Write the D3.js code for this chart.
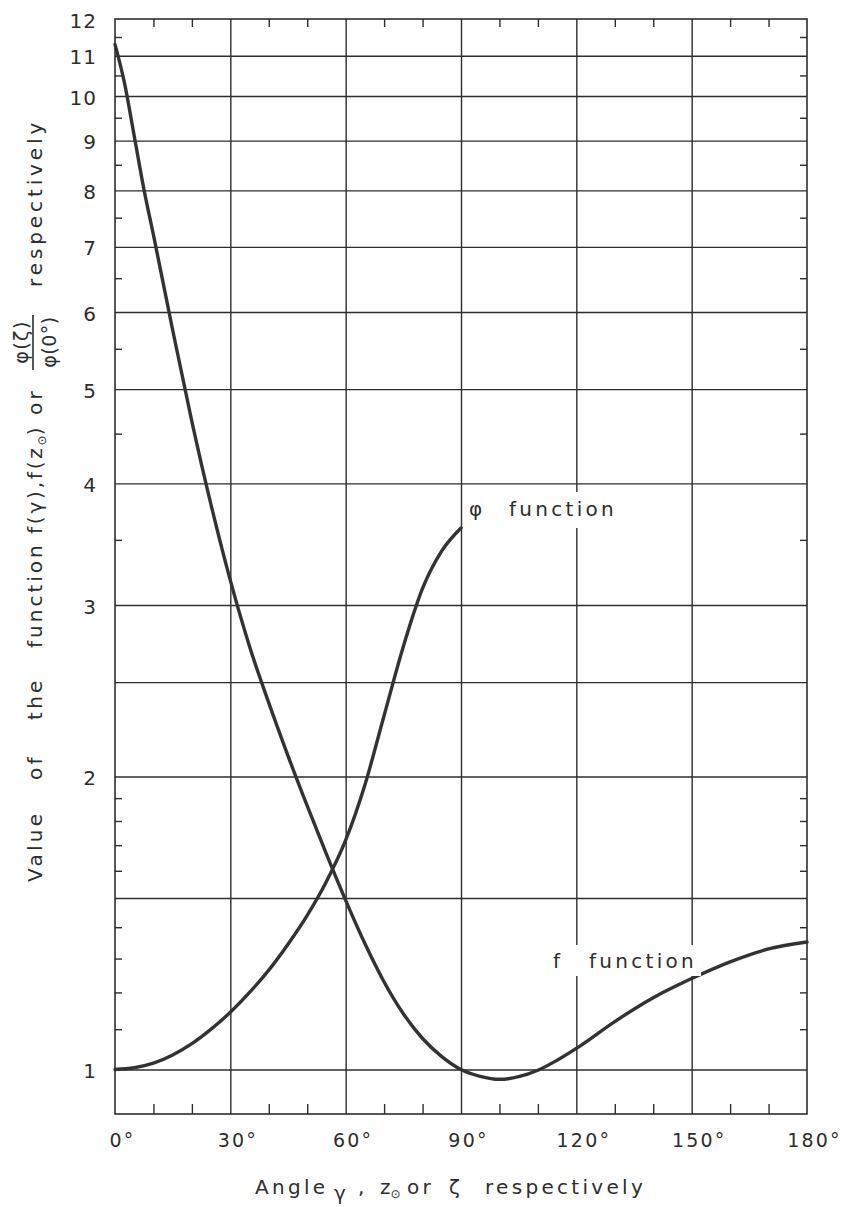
<!DOCTYPE html>
<html>
<head>
<meta charset="utf-8">
<script src="https://cdn.jsdelivr.net/npm/d3@7"></script>
<style>
  body { margin: 0; background: #fff; }
  svg { display: block; }
  text { font-family: "DejaVu Sans", sans-serif; fill: #2e2e2e; }
</style>
</head>
<body>
<svg id="chart" width="841" height="1207"></svg>
<script>
// Angle axis (degrees)
const angleMajor = [0, 30, 60, 90, 120, 150, 180];
const angleMinor = [10, 20, 40, 50, 70, 80, 100, 110, 130, 140, 160, 170];

// Value axis (logarithmic)
const valueGrid = [1, 1.5, 2, 2.5, 3, 4, 5, 6, 7, 8, 9, 10, 11];
const valueLabels = [1, 2, 3, 4, 5, 6, 7, 8, 9, 10, 11, 12];
const valueMinor = [1.1, 1.2, 1.3, 1.4, 1.6, 1.7, 1.8, 1.9, 3.5, 4.5, 5.5, 6.5, 7.5, 8.5, 9.5, 10.5, 11.5];

// f function
const fAngle = [0, 2.5, 5, 7.5, 10, 15, 20, 25, 30, 35, 40, 45, 50, 55, 60, 65, 70, 75, 80, 85, 90,
                95, 100, 105, 110, 115, 120, 130, 140, 150, 160, 170, 180];
const fValue = [11.3, 10.3, 9.1, 8.03, 7.2, 5.75, 4.63, 3.8, 3.18, 2.72, 2.38, 2.1, 1.865, 1.664, 1.492, 1.347, 1.23, 1.141, 1.076, 1.031, 1.0,
                0.984, 0.977, 0.983, 0.998, 1.022, 1.051, 1.12, 1.185, 1.24, 1.29, 1.33, 1.352];

// phi function, phi(zeta)/phi(0°)
const phiAngle = [0, 5, 10, 15, 20, 25, 30, 35, 40, 45, 50, 55, 60, 65, 70, 75, 80, 85, 90];
const phiValue = [1.0, 1.004, 1.015, 1.035, 1.063, 1.1, 1.145, 1.2, 1.265, 1.345, 1.44, 1.56, 1.72, 1.96, 2.31, 2.72, 3.12, 3.41, 3.6];

const ink = "#2e2e2e";
const plotL = 115, plotR = 807, plotT = 19, plotB = 1114;

const svg = d3.select("#chart");

const x = d3.scaleLinear().domain([0, 180]).range([plotL, plotR]);
const y = d3.scaleLog().domain([0.9, 12]).range([plotB, plotT]);

// horizontal grid
svg.append("g")
  .attr("transform", `translate(${plotL},0)`)
  .call(d3.axisLeft(y).tickValues(valueGrid).tickSize(-(plotR - plotL)).tickFormat(""))
  .call(g => g.select(".domain").remove())
  .call(g => g.selectAll("line").attr("stroke", ink).attr("stroke-width", 1.4));

// vertical grid
svg.append("g")
  .attr("transform", `translate(0,${plotB})`)
  .call(d3.axisBottom(x).tickValues(angleMajor.slice(1, -1)).tickSize(-(plotB - plotT)).tickFormat(""))
  .call(g => g.select(".domain").remove())
  .call(g => g.selectAll("line").attr("stroke", ink).attr("stroke-width", 1.4));

// minor ticks, all four sides
svg.append("g").attr("transform", `translate(${plotL},0)`)
  .call(d3.axisLeft(y).tickValues(valueMinor).tickSize(-7).tickFormat(""))
  .call(g => g.select(".domain").remove());
svg.append("g").attr("transform", `translate(${plotR},0)`)
  .call(d3.axisRight(y).tickValues(valueMinor).tickSize(-7).tickFormat(""))
  .call(g => g.select(".domain").remove());
svg.append("g").attr("transform", `translate(0,${plotB})`)
  .call(d3.axisBottom(x).tickValues(angleMinor).tickSize(-10).tickFormat(""))
  .call(g => g.select(".domain").remove());
svg.append("g").attr("transform", `translate(0,${plotT})`)
  .call(d3.axisTop(x).tickValues(angleMinor).tickSize(-8).tickFormat(""))
  .call(g => g.select(".domain").remove());
svg.selectAll(".tick line").filter(function () { return !this.getAttribute("stroke-width"); })
  .attr("stroke", ink).attr("stroke-width", 1.4);

// frame
svg.append("rect")
  .attr("x", plotL).attr("y", plotT)
  .attr("width", plotR - plotL).attr("height", plotB - plotT)
  .attr("fill", "none").attr("stroke", ink).attr("stroke-width", 1.6);

// value labels
svg.append("g").attr("transform", `translate(${plotL},0)`)
  .call(d3.axisLeft(y).tickValues(valueLabels).tickSize(0).tickPadding(18).tickFormat(d3.format("d")))
  .call(g => g.select(".domain").remove())
  .call(g => g.selectAll("text")
    .attr("font-family", "DejaVu Sans").attr("font-size", 20).attr("fill", ink)
    .attr("letter-spacing", 1).attr("dy", "0.4em"));

// angle labels
svg.append("g").attr("transform", `translate(0,${plotB})`)
  .call(d3.axisBottom(x).tickValues(angleMajor).tickSize(0).tickPadding(20).tickFormat(d => d + "°"))
  .call(g => g.select(".domain").remove())
  .call(g => g.selectAll("text")
    .attr("font-family", "DejaVu Sans").attr("font-size", 19).attr("fill", ink)
    .attr("letter-spacing", 2.2).attr("dx", 7));

// curves
const line = d3.line()
  .x(d => x(d[0]))
  .y(d => y(d[1]))
  .curve(d3.curveMonotoneX);

svg.append("path")
  .datum(d3.zip(fAngle, fValue))
  .attr("d", line)
  .attr("fill", "none").attr("stroke", "#333").attr("stroke-width", 3.4)
  .attr("stroke-linejoin", "round").attr("stroke-linecap", "round");

svg.append("path")
  .datum(d3.zip(phiAngle, phiValue))
  .attr("d", line)
  .attr("fill", "none").attr("stroke", "#333").attr("stroke-width", 3.4)
  .attr("stroke-linejoin", "round").attr("stroke-linecap", "round");

// curve labels on a white ground
function curveLabel(sym, symX, wordX, baseY, box) {
  svg.append("rect").attr("x", box[0]).attr("y", box[1])
    .attr("width", box[2]).attr("height", box[3]).attr("fill", "#fff");
  const t = svg.append("text").attr("y", baseY).attr("font-size", 20).attr("letter-spacing", 3.3);
  t.append("tspan").attr("x", symX).text(sym);
  t.append("tspan").attr("x", wordX).text("function");
}
curveLabel("φ", 469, 509, 516, [466, 492, 156, 36]);
curveLabel("f", 553, 589, 968, [549, 945, 152, 31]);

// x axis title
const xt = svg.append("text").attr("y", 1194).attr("font-size", 20).attr("letter-spacing", 3.3);
xt.append("tspan").attr("x", 255).text("Angle");
xt.append("tspan").attr("x", 334).attr("dy", 6).text("γ");
xt.append("tspan").attr("x", 358).attr("dy", -6).text(",");
xt.append("tspan").attr("x", 380).attr("letter-spacing", 0).text("z");
xt.append("tspan").attr("dy", 4).attr("font-size", 12).attr("letter-spacing", 0).text("⊙");
xt.append("tspan").attr("x", 407).attr("dy", -4).text("or");
xt.append("tspan").attr("x", 449).text("ζ");
xt.append("tspan").attr("x", 485).text("respectively");

// y axis title, reading upwards
const yg = svg.append("g").attr("transform", "translate(42,0) rotate(-90)");
const yt = yg.append("text").attr("y", 0).attr("font-size", 20).attr("letter-spacing", 3.3);
yt.append("tspan").attr("x", -882).text("Value");
yt.append("tspan").attr("x", -780).text("of");
yt.append("tspan").attr("x", -720).text("the");
yt.append("tspan").attr("x", -648).attr("letter-spacing", 3).text("function");
yt.append("tspan").attr("x", -534).attr("letter-spacing", 2.8).text("f(γ),f(z");
yt.append("tspan").attr("dy", 4).attr("font-size", 12).attr("letter-spacing", 0).text("⊙");
yt.append("tspan").attr("dy", -4).attr("letter-spacing", 0).text(")");
yt.append("tspan").attr("x", -415).attr("letter-spacing", 3.3).text("or");
yt.append("tspan").attr("x", -287).attr("letter-spacing", 3.9).text("respectively");

// fraction phi(zeta) / phi(0°)
yg.append("text").attr("x", -342).attr("y", -14).attr("text-anchor", "middle")
  .attr("font-size", 19).attr("letter-spacing", 1.5).text("φ(ζ)");
yg.append("text").attr("x", -342).attr("y", 14).attr("text-anchor", "middle")
  .attr("font-size", 19).attr("letter-spacing", 0.5).text("φ(0°)");
yg.append("line").attr("x1", -370).attr("x2", -315).attr("y1", -9).attr("y2", -9)
  .attr("stroke", ink).attr("stroke-width", 1.6);
</script>
</body>
</html>
